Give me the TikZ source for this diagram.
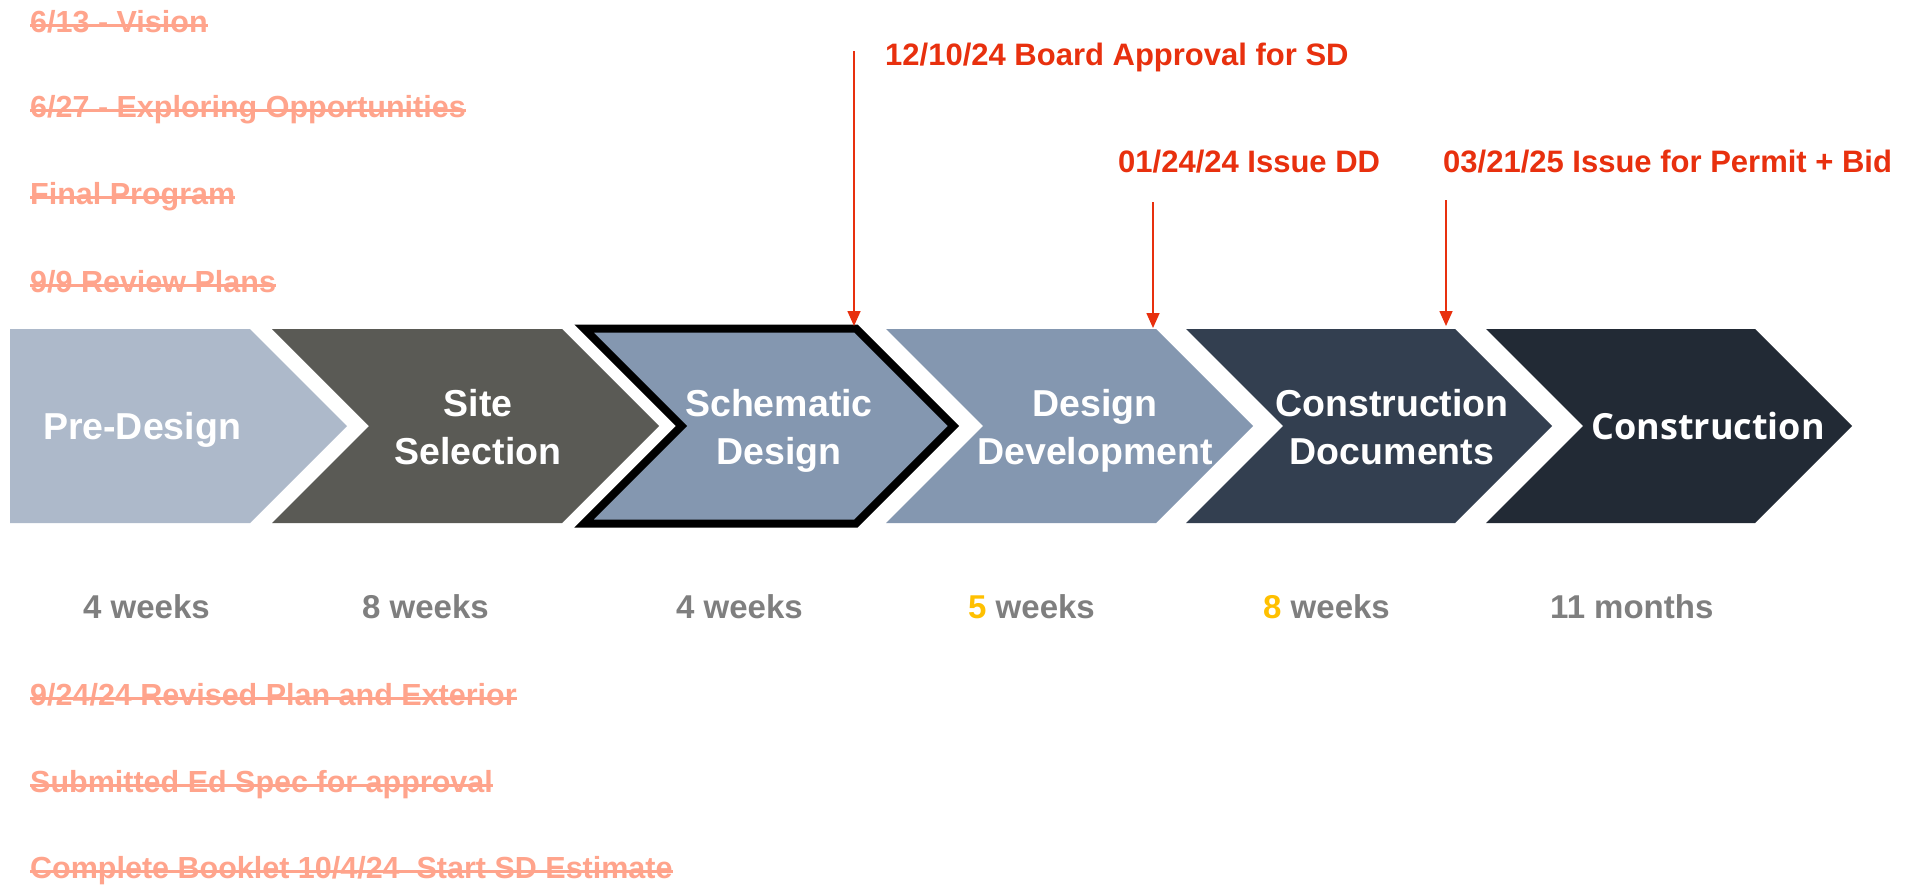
\documentclass[tikz,border=0pt]{standalone}
\usepackage{fontspec}
\setmainfont{Liberation Sans}
\newfontfamily\opensansfont{Open Sans}
\usetikzlibrary{arrows.meta}
\definecolor{cPre}{HTML}{ADB9CA}
\definecolor{cSite}{HTML}{5A5A55}
\definecolor{cSD}{HTML}{8497B0}
\definecolor{cCD}{HTML}{333F50}
\definecolor{cCon}{HTML}{222A35}
\definecolor{cStrike}{HTML}{FFA48C}
\definecolor{cRed}{HTML}{E8300E}
\definecolor{cGray}{HTML}{7F7F7F}
\definecolor{cGold}{HTML}{FFC000}
\begin{document}
\begin{tikzpicture}[x=1pt,y=-1pt,
  phase/.style={text=white,font=\bfseries\fontsize{37.5}{48}\selectfont,align=center,text depth=0pt,inner sep=0pt},
  done/.style={text=cStrike,font=\bfseries\fontsize{30.5}{36}\selectfont,anchor=base west,inner sep=0pt},
  strike/.style={draw=cStrike,line width=2.2pt},
  milestone/.style={text=cRed,font=\bfseries\fontsize{31}{36}\selectfont,anchor=base west,inner sep=0pt},
  marker/.style={draw=cRed,line width=1.6pt,-{Triangle[width=13pt,length=15pt,fill=cRed]}},
  dur/.style={text=cGray,font=\bfseries\fontsize{33}{40}\selectfont,anchor=base west,inner sep=0pt},
]
\fill[white] (0,0) rectangle (1916,886);
\useasboundingbox (0,0) rectangle (1916,886);

% chevrons
\fill[cPre] (10,329) -- (250,329) -- (347,426) -- (250,523) -- (10,523) -- cycle;
\fill[cSite] (272,329) -- (562,329) -- (659,426) -- (562,523) -- (272,523) -- (369,426) -- cycle;
\filldraw[fill=cSD,draw=black,line width=8pt,miter limit=10] (584,328.5) -- (856,328.5) -- (953.5,426) -- (856,523.5) -- (584,523.5) -- (681.5,426) -- cycle;
\fill[cSD] (886,329) -- (1156,329) -- (1253,426) -- (1156,523) -- (886,523) -- (983,426) -- cycle;
\fill[cCD] (1186,329) -- (1455,329) -- (1552,426) -- (1455,523) -- (1186,523) -- (1283,426) -- cycle;
\fill[cCon] (1486,329) -- (1755,329) -- (1852,426) -- (1755,523) -- (1486,523) -- (1583,426) -- cycle;

\node[phase] (pre) at (142,426) {Pre-Design};
\node[phase] (site) at (478,427) {Site\\Selection};
\node[phase] (sd) at (779,427) {Schematic\\Design};
\node[phase] (dd) at (1095,427) {Design\\Development};
\node[phase] (cd) at (1392,427) {Construction\\Documents};
\node[phase,font=\opensansfont\bfseries\fontsize{36}{48}\selectfont] (con) at (1708,426) {Construction};

% completed items (struck out)
\node[done] (v1) at (30,32) {6/13 - Vision};
\node[done] (v2) at (30,117) {6/27 - Exploring Opportunities};
\node[done] (v3) at (30,204) {Final Program};
\node[done] (v4) at (30,292) {9/9 Review Plans};
\node[done] (v5) at (30,705) {9/24/24 Revised Plan and Exterior};
\node[done] (v6) at (30,792) {Submitted Ed Spec for approval};
\node[done] (v7) at (30,878) {Complete Booklet 10/4/24\ \ Start SD Estimate};
\foreach \n in {v1,v2,v3,v4,v5,v6,v7}
  \draw[strike] ([yshift=6.5pt]\n.base west) -- ([yshift=6.5pt]\n.base east);

% durations
\node[dur] (d1) at (83,618) {4 weeks};
\node[dur] (d2) at (362,618) {8 weeks};
\node[dur] (d3) at (676,618) {4 weeks};
\node[dur] (d4) at (968,618) {\textcolor{cGold}{5} weeks};
\node[dur] (d5) at (1263,618) {\textcolor{cGold}{8} weeks};
\node[dur] (d6) at (1550,618) {11 months};

% milestones
\node[milestone] (m1) at (885,65) {12/10/24 Board Approval for SD};
\node[milestone] (m2) at (1118,172) {01/24/24 Issue DD};
\node[milestone] (m3) at (1443,172) {03/21/25 Issue for Permit + Bid};
\coordinate (m1s) at (854,51);
\coordinate (m1e) at (854,326);
\coordinate (m2s) at (1153,202);
\coordinate (m2e) at (1153,328);
\coordinate (m3s) at (1446,200);
\coordinate (m3e) at (1446,326);
\draw[marker] (m1s) -- (m1e);
\draw[marker] (m2s) -- (m2e);
\draw[marker] (m3s) -- (m3e);
\end{tikzpicture}
\end{document}
